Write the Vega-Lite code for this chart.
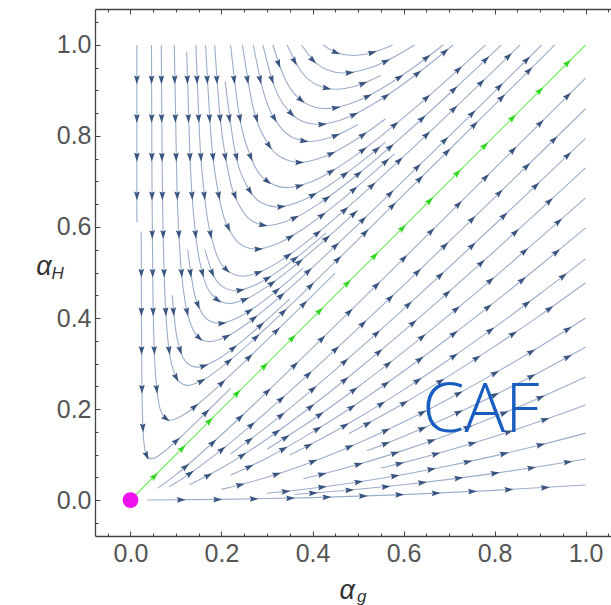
{
"$schema":"https://vega.github.io/schema/vega-lite/v6.json",
"width":516,"height":527,
"autosize":{"type":"none"},
"padding":{"left":95,"top":9,"right":0,"bottom":69},
"config":{"view":{"stroke":null},"font":"Liberation Sans"},
"datasets":{
"lines":[
{"l":"u01","x":0.014,"y":1},{"l":"u01","x":0.01405,"y":0.8},{"l":"u01","x":0.0141,"y":0.61},
{"l":"u02","x":0.02354,"y":0.59},{"l":"u02","x":0.02405,"y":0.4},{"l":"u02","x":0.02513,"y":0.25},{"l":"u02","x":0.02773,"y":0.15},{"l":"u02","x":0.03178,"y":0.11},{"l":"u02","x":0.035,"y":0.0988},{"l":"u02","x":0.0452,"y":0.0904},{"l":"u02","x":0.06,"y":0.0963},{"l":"u02","x":0.08,"y":0.1115},{"l":"u02","x":0.12,"y":0.1478},{"l":"u02","x":0.16,"y":0.1863},{"l":"u02","x":0.22,"y":0.2452},
{"l":"u03","x":0.04613,"y":1},{"l":"u03","x":0.04718,"y":0.7},{"l":"u03","x":0.04943,"y":0.45},{"l":"u03","x":0.05356,"y":0.3},{"l":"u03","x":0.06275,"y":0.21},{"l":"u03","x":0.07,"y":0.1885},{"l":"u03","x":0.078,"y":0.1789},{"l":"u03","x":0.088,"y":0.176},{"l":"u03","x":0.12,"y":0.1895},{"l":"u03","x":0.16,"y":0.2207},{"l":"u03","x":0.2,"y":0.2564},{"l":"u03","x":0.25,"y":0.3034},{"l":"u03","x":0.3,"y":0.3516},{"l":"u03","x":0.35,"y":0.4003},{"l":"u03","x":0.4,"y":0.4494},{"l":"u03","x":0.45,"y":0.4988},
{"l":"u04","x":0.06757,"y":1},{"l":"u04","x":0.07,"y":0.7},{"l":"u04","x":0.07393,"y":0.5},{"l":"u04","x":0.0824,"y":0.35},{"l":"u04","x":0.09574,"y":0.28},{"l":"u04","x":0.105,"y":0.2625},{"l":"u04","x":0.126,"y":0.252},{"l":"u04","x":0.16,"y":0.2639},{"l":"u04","x":0.2,"y":0.292},{"l":"u04","x":0.3,"y":0.3797},{"l":"u04","x":0.4,"y":0.4748},{"l":"u04","x":0.5,"y":0.5721},{"l":"u04","x":0.6,"y":0.6704},{"l":"u04","x":0.7,"y":0.7692},{"l":"u04","x":0.8,"y":0.8684},{"l":"u04","x":0.9,"y":0.9677},{"l":"u04","x":0.93243,"y":1},
{"l":"u05","x":0.09168,"y":0.45},{"l":"u05","x":0.09857,"y":0.38},{"l":"u05","x":0.11267,"y":0.32},{"l":"u05","x":0.125,"y":0.3005},{"l":"u05","x":0.146,"y":0.292},{"l":"u05","x":0.19,"y":0.3085},{"l":"u05","x":0.25,"y":0.3531},{"l":"u05","x":0.3,"y":0.3965},{"l":"u05","x":0.35,"y":0.4422},
{"l":"u06","x":0.09627,"y":1},{"l":"u06","x":0.1018,"y":0.7},{"l":"u06","x":0.10834,"y":0.55},{"l":"u06","x":0.1194,"y":0.44},{"l":"u06","x":0.1399,"y":0.37},{"l":"u06","x":0.155,"y":0.3533},{"l":"u06","x":0.174,"y":0.348},{"l":"u06","x":0.22,"y":0.3639},{"l":"u06","x":0.26,"y":0.3908},{"l":"u06","x":0.3,"y":0.4225},{"l":"u06","x":0.4,"y":0.5112},{"l":"u06","x":0.5,"y":0.6053},{"l":"u06","x":0.6,"y":0.7018},{"l":"u06","x":0.7,"y":0.7993},{"l":"u06","x":0.8,"y":0.8976},{"l":"u06","x":0.90374,"y":1},
{"l":"u07","x":0.12576,"y":0.55},{"l":"u07","x":0.139,"y":0.46},{"l":"u07","x":0.15752,"y":0.41},{"l":"u07","x":0.172,"y":0.3945},{"l":"u07","x":0.194,"y":0.388},{"l":"u07","x":0.24,"y":0.4028},{"l":"u07","x":0.28,"y":0.4284},{"l":"u07","x":0.33,"y":0.4674},{"l":"u07","x":0.38,"y":0.5102},
{"l":"u08","x":0.12348,"y":0.985},{"l":"u08","x":0.13082,"y":0.75},{"l":"u08","x":0.14126,"y":0.6},{"l":"u08","x":0.1578,"y":0.5},{"l":"u08","x":0.18,"y":0.45},{"l":"u08","x":0.216,"y":0.432},{"l":"u08","x":0.26,"y":0.4447},{"l":"u08","x":0.3,"y":0.4688},{"l":"u08","x":0.35,"y":0.5062},{"l":"u08","x":0.4,"y":0.5479},{"l":"u08","x":0.45,"y":0.5921},{"l":"u08","x":0.5,"y":0.6378},
{"l":"u09","x":0.1638,"y":0.55},{"l":"u09","x":0.17929,"y":0.5},{"l":"u09","x":0.2,"y":0.4706},{"l":"u09","x":0.23,"y":0.46},{"l":"u09","x":0.28,"y":0.4752},{"l":"u09","x":0.33,"y":0.5065},{"l":"u09","x":0.38,"y":0.5449},{"l":"u09","x":0.43,"y":0.587},
{"l":"u10","x":0.14363,"y":1},{"l":"u10","x":0.1518,"y":0.8},{"l":"u10","x":0.16477,"y":0.65},{"l":"u10","x":0.1857,"y":0.55},{"l":"u10","x":0.21,"y":0.5069},{"l":"u10","x":0.246,"y":0.492},{"l":"u10","x":0.3,"y":0.5085},{"l":"u10","x":0.35,"y":0.5396},{"l":"u10","x":0.4,"y":0.5776},{"l":"u10","x":0.5,"y":0.6631},{"l":"u10","x":0.6,"y":0.7547},{"l":"u10","x":0.7,"y":0.8492},{"l":"u10","x":0.8,"y":0.9453},{"l":"u10","x":0.85637,"y":1},
{"l":"u11","x":0.16504,"y":1},{"l":"u11","x":0.17693,"y":0.8},{"l":"u11","x":0.19601,"y":0.66},{"l":"u11","x":0.22538,"y":0.58},{"l":"u11","x":0.25,"y":0.557},{"l":"u11","x":0.2756,"y":0.5512},{"l":"u11","x":0.33,"y":0.5666},{"l":"u11","x":0.38,"y":0.5962},{"l":"u11","x":0.45,"y":0.6486},{"l":"u11","x":0.52,"y":0.7075},{"l":"u11","x":0.58,"y":0.7607},
{"l":"u12","x":0.18504,"y":1},{"l":"u12","x":0.196,"y":0.85},{"l":"u12","x":0.215,"y":0.72},{"l":"u12","x":0.24645,"y":0.635},{"l":"u12","x":0.27,"y":0.6116},{"l":"u12","x":0.3016,"y":0.6032},{"l":"u12","x":0.36,"y":0.6195},{"l":"u12","x":0.42,"y":0.6553},{"l":"u12","x":0.5,"y":0.7159},{"l":"u12","x":0.6,"y":0.8014},{"l":"u12","x":0.7,"y":0.8922},{"l":"u12","x":0.8,"y":0.9858},{"l":"u12","x":0.81496,"y":1},
{"l":"u13","x":0.20805,"y":0.92},{"l":"u13","x":0.22715,"y":0.78},{"l":"u13","x":0.26177,"y":0.68},{"l":"u13","x":0.29,"y":0.652},{"l":"u13","x":0.322,"y":0.644},{"l":"u13","x":0.38,"y":0.6594},{"l":"u13","x":0.44,"y":0.6939},{"l":"u13","x":0.5,"y":0.7375},{"l":"u13","x":0.56,"y":0.786},
{"l":"u14","x":0.22,"y":1},{"l":"u14","x":0.2368,"y":0.86},{"l":"u14","x":0.2658,"y":0.75},{"l":"u14","x":0.3,"y":0.7009},{"l":"u14","x":0.3432,"y":0.6864},{"l":"u14","x":0.4,"y":0.7005},{"l":"u14","x":0.46,"y":0.7337},{"l":"u14","x":0.54,"y":0.7915},{"l":"u14","x":0.62,"y":0.8573},{"l":"u14","x":0.7,"y":0.9273},{"l":"u14","x":0.78,"y":1},
{"l":"u15","x":0.246,"y":1},{"l":"u15","x":0.26575,"y":0.88},{"l":"u15","x":0.30392,"y":0.78},{"l":"u15","x":0.33,"y":0.7536},{"l":"u15","x":0.371,"y":0.742},{"l":"u15","x":0.43,"y":0.7562},{"l":"u15","x":0.5,"y":0.7949},{"l":"u15","x":0.56,"y":0.8374},
{"l":"u16","x":0.26978,"y":1},{"l":"u16","x":0.29126,"y":0.9},{"l":"u16","x":0.329,"y":0.82},{"l":"u16","x":0.36,"y":0.7951},{"l":"u16","x":0.394,"y":0.788},{"l":"u16","x":0.45,"y":0.8004},{"l":"u16","x":0.5,"y":0.8251},
{"l":"u17","x":0.29095,"y":1},{"l":"u17","x":0.31234,"y":0.92},{"l":"u17","x":0.3524,"y":0.85},{"l":"u17","x":0.38,"y":0.8313},{"l":"u17","x":0.4126,"y":0.8252},{"l":"u17","x":0.48,"y":0.8418},{"l":"u17","x":0.55,"y":0.8801},{"l":"u17","x":0.63,"y":0.9367},{"l":"u17","x":0.709,"y":1},
{"l":"u18","x":0.31292,"y":1},{"l":"u18","x":0.33743,"y":0.93},{"l":"u18","x":0.38023,"y":0.875},{"l":"u18","x":0.4,"y":0.8649},{"l":"u18","x":0.43,"y":0.86},{"l":"u18","x":0.5,"y":0.8772},{"l":"u18","x":0.57,"y":0.9152},{"l":"u18","x":0.63,"y":0.9564},{"l":"u18","x":0.68708,"y":1},
{"l":"u19","x":0.34411,"y":1},{"l":"u19","x":0.3765,"y":0.94},{"l":"u19","x":0.41,"y":0.9121},{"l":"u19","x":0.4514,"y":0.9028},{"l":"u19","x":0.5,"y":0.9114},{"l":"u19","x":0.55,"y":0.9328},
{"l":"u20","x":0.3759,"y":1},{"l":"u20","x":0.408,"y":0.96},{"l":"u20","x":0.43,"y":0.9463},{"l":"u20","x":0.4692,"y":0.9384},{"l":"u20","x":0.53,"y":0.9509},{"l":"u20","x":0.58,"y":0.974},{"l":"u20","x":0.6241,"y":1},
{"l":"u21","x":0.42384,"y":1},{"l":"u21","x":0.45,"y":0.984},{"l":"u21","x":0.4884,"y":0.9768},{"l":"u21","x":0.53,"y":0.9829},{"l":"u21","x":0.57616,"y":1},
{"l":"b01","x":0.06,"y":0.026},{"l":"b01","x":0.1,"y":0.056},{"l":"b01","x":0.2,"y":0.1435},{"l":"b01","x":0.3,"y":0.2377},{"l":"b01","x":0.4,"y":0.3342},{"l":"b01","x":0.5,"y":0.432},{"l":"b01","x":0.6,"y":0.5304},{"l":"b01","x":0.7,"y":0.6293},{"l":"b01","x":0.8,"y":0.7284},{"l":"b01","x":0.9,"y":0.8276},{"l":"b01","x":1,"y":0.927},
{"l":"b02","x":0.085,"y":0.029},{"l":"b02","x":0.1,"y":0.038},{"l":"b02","x":0.2,"y":0.1102},{"l":"b02","x":0.3,"y":0.1944},{"l":"b02","x":0.4,"y":0.2842},{"l":"b02","x":0.5,"y":0.3771},{"l":"b02","x":0.6,"y":0.4718},{"l":"b02","x":0.7,"y":0.5678},{"l":"b02","x":0.8,"y":0.6646},{"l":"b02","x":0.9,"y":0.762},{"l":"b02","x":1,"y":0.8598},
{"l":"b03","x":0.22,"y":0.1013},{"l":"b03","x":0.3,"y":0.1613},{"l":"b03","x":0.4,"y":0.2432},{"l":"b03","x":0.5,"y":0.3298},{"l":"b03","x":0.6,"y":0.4196},{"l":"b03","x":0.7,"y":0.5115},{"l":"b03","x":0.8,"y":0.6049},{"l":"b03","x":0.9,"y":0.6995},{"l":"b03","x":1,"y":0.7949},
{"l":"b04","x":0.13,"y":0.0338},{"l":"b04","x":0.2,"y":0.0702},{"l":"b04","x":0.3,"y":0.1343},{"l":"b04","x":0.4,"y":0.2078},{"l":"b04","x":0.5,"y":0.2874},{"l":"b04","x":0.6,"y":0.3711},{"l":"b04","x":0.7,"y":0.4579},{"l":"b04","x":0.8,"y":0.547},{"l":"b04","x":0.9,"y":0.6378},{"l":"b04","x":1,"y":0.7299},
{"l":"b05","x":0.3,"y":0.1117},{"l":"b05","x":0.4,"y":0.1766},{"l":"b05","x":0.5,"y":0.2485},{"l":"b05","x":0.6,"y":0.3255},{"l":"b05","x":0.7,"y":0.4063},{"l":"b05","x":0.8,"y":0.49},{"l":"b05","x":0.9,"y":0.5761},{"l":"b05","x":1,"y":0.664},
{"l":"b06","x":0.22,"y":0.0543},{"l":"b06","x":0.3,"y":0.0926},{"l":"b06","x":0.4,"y":0.1493},{"l":"b06","x":0.5,"y":0.2133},{"l":"b06","x":0.6,"y":0.283},{"l":"b06","x":0.7,"y":0.3571},{"l":"b06","x":0.8,"y":0.4348},{"l":"b06","x":0.9,"y":0.5153},{"l":"b06","x":1,"y":0.5981},
{"l":"b07","x":0.35,"y":0.099},{"l":"b07","x":0.4,"y":0.1243},{"l":"b07","x":0.5,"y":0.1802},{"l":"b07","x":0.6,"y":0.2421},{"l":"b07","x":0.7,"y":0.3088},{"l":"b07","x":0.8,"y":0.3794},{"l":"b07","x":0.9,"y":0.4533},{"l":"b07","x":1,"y":0.53},
{"l":"b08","x":0.48,"y":0.1462},{"l":"b08","x":0.6,"y":0.2123},{"l":"b08","x":0.7,"y":0.2728},{"l":"b08","x":0.8,"y":0.3376},{"l":"b08","x":0.9,"y":0.4058},{"l":"b08","x":1,"y":0.4771},
{"l":"b09","x":0.2,"y":0.0235},{"l":"b09","x":0.3,"y":0.05},{"l":"b09","x":0.4,"y":0.0842},{"l":"b09","x":0.5,"y":0.125},{"l":"b09","x":0.6,"y":0.1714},{"l":"b09","x":0.7,"y":0.2227},{"l":"b09","x":0.8,"y":0.2783},{"l":"b09","x":0.9,"y":0.3375},{"l":"b09","x":1,"y":0.4},
{"l":"b10","x":0.52,"y":0.1083},{"l":"b10","x":0.6,"y":0.1398},{"l":"b10","x":0.7,"y":0.1831},{"l":"b10","x":0.8,"y":0.2305},{"l":"b10","x":0.9,"y":0.2816},{"l":"b10","x":1,"y":0.336},
{"l":"b11","x":0.38,"y":0.0469},{"l":"b11","x":0.5,"y":0.0781},{"l":"b11","x":0.6,"y":0.1091},{"l":"b11","x":0.7,"y":0.1441},{"l":"b11","x":0.8,"y":0.1829},{"l":"b11","x":0.9,"y":0.225},{"l":"b11","x":1,"y":0.2703},
{"l":"b12","x":0.55,"y":0.0699},{"l":"b12","x":0.6,"y":0.0822},{"l":"b12","x":0.7,"y":0.1094},{"l":"b12","x":0.8,"y":0.1397},{"l":"b12","x":0.9,"y":0.1731},{"l":"b12","x":1,"y":0.2092},
{"l":"b13","x":0.3,"y":0.0148},{"l":"b13","x":0.4,"y":0.0258},{"l":"b13","x":0.5,"y":0.0397},{"l":"b13","x":0.6,"y":0.0563},{"l":"b13","x":0.7,"y":0.0754},{"l":"b13","x":0.8,"y":0.097},{"l":"b13","x":0.9,"y":0.1209},{"l":"b13","x":1,"y":0.1471},
{"l":"b14","x":0.36,"y":0.0123},{"l":"b14","x":0.5,"y":0.0236},{"l":"b14","x":0.6,"y":0.0336},{"l":"b14","x":0.7,"y":0.0454},{"l":"b14","x":0.8,"y":0.0587},{"l":"b14","x":0.9,"y":0.0736},{"l":"b14","x":1,"y":0.0901},
{"l":"b15","x":0.037,"y":0},{"l":"b15","x":0.2,"y":0.0014},{"l":"b15","x":0.4,"y":0.0054},{"l":"b15","x":0.6,"y":0.012},{"l":"b15","x":0.8,"y":0.0213},{"l":"b15","x":1,"y":0.033}
],
"arrows":[
{"x":0.014,"y":0.925,"a":180},{"x":0.014,"y":0.84,"a":180},{"x":0.014,"y":0.755,"a":180},{"x":0.0141,"y":0.67,"a":180},
{"x":0.0238,"y":0.5,"a":180},{"x":0.024,"y":0.415,"a":180},{"x":0.0244,"y":0.33,"a":179.6},{"x":0.0252,"y":0.245,"a":179.2},{"x":0.0272,"y":0.16,"a":177.5},{"x":0.035,"y":0.0988,"a":156.7},{"x":0.1,"y":0.1292,"a":47.5},{"x":0.165,"y":0.1912,"a":45.7},
{"x":0.0463,"y":0.925,"a":180},{"x":0.0465,"y":0.84,"a":180},{"x":0.0469,"y":0.755,"a":180},{"x":0.0473,"y":0.67,"a":179.8},{"x":0.0478,"y":0.585,"a":179.5},{"x":0.0486,"y":0.5,"a":179.3},{"x":0.0497,"y":0.415,"a":178.9},{"x":0.0523,"y":0.33,"a":177.9},{"x":0.0575,"y":0.245,"a":174.1},{"x":0.077,"y":0.1797,"a":127.9},{"x":0.14,"y":0.2042,"a":51.7},{"x":0.2,"y":0.2564,"a":47.4},{"x":0.26,"y":0.313,"a":46.2},{"x":0.32,"y":0.371,"a":45.7},{"x":0.38,"y":0.4298,"a":45.5},
{"x":0.0679,"y":0.925,"a":179.6},{"x":0.0684,"y":0.84,"a":179.5},{"x":0.0691,"y":0.755,"a":179.4},{"x":0.07,"y":0.67,"a":179.2},{"x":0.0718,"y":0.585,"a":178.9},{"x":0.0739,"y":0.5,"a":178.2},{"x":0.0775,"y":0.415,"a":176.8},{"x":0.0848,"y":0.33,"a":172.3},{"x":0.1,"y":0.2703,"a":152.2},{"x":0.155,"y":0.2611,"a":62},{"x":0.215,"y":0.3041,"a":50.4},{"x":0.275,"y":0.3567,"a":47.6},{"x":0.335,"y":0.4126,"a":46.6},{"x":0.395,"y":0.47,"a":46},{"x":0.455,"y":0.5281,"a":45.7},{"x":0.515,"y":0.5868,"a":45.6},{"x":0.575,"y":0.6458,"a":45.4},{"x":0.635,"y":0.7049,"a":45.3},{"x":0.695,"y":0.7643,"a":45.3},{"x":0.755,"y":0.8237,"a":45.2},{"x":0.815,"y":0.8833,"a":45.2},{"x":0.875,"y":0.9429,"a":45.1},
{"x":0.0945,"y":0.415,"a":174.6},{"x":0.109,"y":0.33,"a":162.2},{"x":0.16,"y":0.2943,"a":73.5},{"x":0.225,"y":0.3331,"a":52.4},{"x":0.285,"y":0.3831,"a":48.6},
{"x":0.0972,"y":0.925,"a":179.2},{"x":0.0986,"y":0.84,"a":179},{"x":0.1003,"y":0.755,"a":178.6},{"x":0.1028,"y":0.67,"a":178.1},{"x":0.1063,"y":0.585,"a":177},{"x":0.1122,"y":0.5,"a":174.8},{"x":0.1241,"y":0.415,"a":167.4},{"x":0.15,"y":0.3571,"a":132.2},{"x":0.21,"y":0.3585,"a":63.4},{"x":0.27,"y":0.3984,"a":52.3},{"x":0.33,"y":0.4481,"a":48.9},{"x":0.39,"y":0.502,"a":47.5},{"x":0.45,"y":0.5579,"a":46.7},{"x":0.51,"y":0.6149,"a":46.2},{"x":0.57,"y":0.6727,"a":45.9},{"x":0.63,"y":0.7309,"a":45.7},{"x":0.69,"y":0.7896,"a":45.6},{"x":0.75,"y":0.8484,"a":45.5},{"x":0.81,"y":0.9075,"a":45.4},{"x":0.87,"y":0.9667,"a":45.4},
{"x":0.1317,"y":0.5,"a":171.7},{"x":0.1478,"y":0.43,"a":159.3},{"x":0.2,"y":0.3883,"a":83.6},{"x":0.26,"y":0.4147,"a":57.1},{"x":0.32,"y":0.4592,"a":51},
{"x":0.1249,"y":0.925,"a":178.6},{"x":0.1273,"y":0.84,"a":178.1},{"x":0.1306,"y":0.755,"a":177.3},{"x":0.1353,"y":0.67,"a":176.1},{"x":0.1429,"y":0.585,"a":173.3},{"x":0.1578,"y":0.5,"a":164.8},{"x":0.19,"y":0.4402,"a":126.3},{"x":0.25,"y":0.4401,"a":67.1},{"x":0.31,"y":0.4757,"a":54.5},{"x":0.37,"y":0.5225,"a":50.3},{"x":0.43,"y":0.5742,"a":48.4},{"x":0.49,"y":0.6285,"a":47.4},
{"x":0.1793,"y":0.5,"a":155.6},{"x":0.24,"y":0.4608,"a":81.2},{"x":0.3,"y":0.4865,"a":58.5},{"x":0.36,"y":0.529,"a":52},
{"x":0.1461,"y":0.925,"a":177.9},{"x":0.1497,"y":0.84,"a":177.2},{"x":0.1547,"y":0.755,"a":175.9},{"x":0.1623,"y":0.67,"a":173.5},{"x":0.1759,"y":0.585,"a":167.3},{"x":0.21,"y":0.5069,"a":135},{"x":0.28,"y":0.4994,"a":68.9},{"x":0.345,"y":0.5361,"a":55.3},{"x":0.41,"y":0.5857,"a":50.8},{"x":0.47,"y":0.6366,"a":48.8},{"x":0.53,"y":0.6902,"a":47.7},{"x":0.59,"y":0.7454,"a":47},{"x":0.65,"y":0.8017,"a":46.6},{"x":0.71,"y":0.8588,"a":46.3},{"x":0.77,"y":0.9164,"a":46},{"x":0.83,"y":0.9744,"a":45.9},
{"x":0.1685,"y":0.925,"a":177},{"x":0.1737,"y":0.84,"a":175.8},{"x":0.1814,"y":0.755,"a":173.8},{"x":0.1939,"y":0.67,"a":168.7},{"x":0.2144,"y":0.6,"a":155.8},{"x":0.28,"y":0.5513,"a":86.5},{"x":0.35,"y":0.5773,"a":60},{"x":0.42,"y":0.6251,"a":52.7},{"x":0.49,"y":0.6817,"a":49.7},{"x":0.56,"y":0.7428,"a":48.2},
{"x":0.1897,"y":0.925,"a":175.9},{"x":0.197,"y":0.84,"a":174.1},{"x":0.2082,"y":0.755,"a":169.7},{"x":0.2292,"y":0.67,"a":159.7},{"x":0.29,"y":0.6042,"a":99.8},{"x":0.36,"y":0.6195,"a":64.4},{"x":0.43,"y":0.6622,"a":54.7},{"x":0.5,"y":0.7159,"a":50.9},{"x":0.57,"y":0.775,"a":49},{"x":0.64,"y":0.8373,"a":47.9},{"x":0.71,"y":0.9015,"a":47.1},{"x":0.78,"y":0.967,"a":46.7},
{"x":0.2171,"y":0.84,"a":172.1},{"x":0.2328,"y":0.755,"a":166.1},{"x":0.2618,"y":0.68,"a":147.2},{"x":0.33,"y":0.6444,"a":84.7},{"x":0.4,"y":0.6695,"a":61.4},{"x":0.47,"y":0.7149,"a":53.9},{"x":0.54,"y":0.7694,"a":50.6},
{"x":0.2276,"y":0.925,"a":173.3},{"x":0.2404,"y":0.84,"a":169.2},{"x":0.2637,"y":0.755,"a":157.9},{"x":0.3,"y":0.7009,"a":128.1},{"x":0.37,"y":0.69,"a":75.9},{"x":0.44,"y":0.7213,"a":59.4},{"x":0.51,"y":0.7686,"a":53.4},{"x":0.58,"y":0.8237,"a":50.5},{"x":0.65,"y":0.8832,"a":48.9},{"x":0.72,"y":0.9453,"a":48},
{"x":0.2568,"y":0.925,"a":170.2},{"x":0.2766,"y":0.84,"a":162.4},{"x":0.3039,"y":0.78,"a":145.4},{"x":0.37,"y":0.742,"a":90.5},{"x":0.44,"y":0.7607,"a":64.9},{"x":0.51,"y":0.8015,"a":56},
{"x":0.2845,"y":0.925,"a":166.2},{"x":0.3155,"y":0.84,"a":150.4},{"x":0.38,"y":0.7891,"a":99.1},{"x":0.45,"y":0.8004,"a":68.5},
{"x":0.3106,"y":0.925,"a":161},{"x":0.3524,"y":0.85,"a":134.8},{"x":0.42,"y":0.8254,"a":86.1},{"x":0.49,"y":0.8463,"a":64.8},{"x":0.56,"y":0.8866,"a":56.6},{"x":0.63,"y":0.9367,"a":52.7},{"x":0.69,"y":0.9843,"a":50.7},
{"x":0.3251,"y":0.96,"a":160.4},{"x":0.3737,"y":0.88,"a":129.9},{"x":0.45,"y":0.8617,"a":80.7},{"x":0.52,"y":0.8866,"a":63.3},{"x":0.59,"y":0.9283,"a":56.1},{"x":0.65,"y":0.9713,"a":52.9},
{"x":0.36,"y":0.965,"a":151.2},{"x":0.43,"y":0.905,"a":102.5},{"x":0.51,"y":0.9149,"a":69.7},
{"x":0.4,"y":0.9674,"a":135.3},{"x":0.48,"y":0.9389,"a":85.1},{"x":0.56,"y":0.9637,"a":64.4},
{"x":0.45,"y":0.984,"a":112.2},{"x":0.53,"y":0.9829,"a":74.8},
{"x":0.12,"y":0.0725,"a":49.9},{"x":0.18,"y":0.1252,"a":47.8},{"x":0.24,"y":0.1807,"a":46.8},{"x":0.3,"y":0.2377,"a":46.3},{"x":0.36,"y":0.2954,"a":45.9},{"x":0.42,"y":0.3537,"a":45.7},{"x":0.48,"y":0.4124,"a":45.6},{"x":0.54,"y":0.4713,"a":45.4},{"x":0.6,"y":0.5304,"a":45.4},{"x":0.66,"y":0.5897,"a":45.3},{"x":0.72,"y":0.6491,"a":45.3},{"x":0.78,"y":0.7085,"a":45.2},{"x":0.84,"y":0.768,"a":45.2},{"x":0.9,"y":0.8276,"a":45.2},{"x":0.96,"y":0.8873,"a":45.2},
{"x":0.13,"y":0.0577,"a":55.4},{"x":0.2,"y":0.1102,"a":51.4},{"x":0.265,"y":0.1641,"a":49.5},{"x":0.33,"y":0.2209,"a":48.3},{"x":0.39,"y":0.275,"a":47.6},{"x":0.45,"y":0.3303,"a":47.1},{"x":0.51,"y":0.3865,"a":46.7},{"x":0.57,"y":0.4432,"a":46.4},{"x":0.63,"y":0.5005,"a":46.2},{"x":0.69,"y":0.5582,"a":46},{"x":0.75,"y":0.6161,"a":45.9},{"x":0.81,"y":0.6743,"a":45.8},{"x":0.87,"y":0.7327,"a":45.7},{"x":0.93,"y":0.7913,"a":45.6},
{"x":0.26,"y":0.1305,"a":53.1},{"x":0.33,"y":0.1852,"a":51.1},{"x":0.4,"y":0.2432,"a":49.8},{"x":0.47,"y":0.3034,"a":48.8},{"x":0.54,"y":0.3654,"a":48.2},{"x":0.61,"y":0.4287,"a":47.6},{"x":0.68,"y":0.493,"a":47.3},{"x":0.75,"y":0.558,"a":46.9},{"x":0.82,"y":0.6237,"a":46.7},{"x":0.89,"y":0.69,"a":46.5},{"x":0.96,"y":0.7567,"a":46.3},
{"x":0.17,"y":0.0535,"a":62},{"x":0.245,"y":0.0976,"a":57.5},{"x":0.32,"y":0.1484,"a":54.5},{"x":0.395,"y":0.204,"a":52.5},{"x":0.47,"y":0.263,"a":51.1},{"x":0.545,"y":0.3246,"a":50.1},{"x":0.62,"y":0.3883,"a":49.3},{"x":0.695,"y":0.4535,"a":48.7},{"x":0.77,"y":0.5201,"a":48.2},{"x":0.845,"y":0.5877,"a":47.8},{"x":0.92,"y":0.6561,"a":47.4},
{"x":0.34,"y":0.1366,"a":57.3},{"x":0.415,"y":0.187,"a":55.1},{"x":0.49,"y":0.2411,"a":53.4},{"x":0.565,"y":0.298,"a":52.2},{"x":0.64,"y":0.3574,"a":51.2},{"x":0.715,"y":0.4187,"a":50.4},{"x":0.79,"y":0.4816,"a":49.7},{"x":0.865,"y":0.5457,"a":49.2},{"x":0.94,"y":0.6111,"a":48.7},
{"x":0.26,"y":0.0725,"a":64.4},{"x":0.335,"y":0.1114,"a":61},{"x":0.41,"y":0.1554,"a":58.4},{"x":0.485,"y":0.2033,"a":56.5},{"x":0.56,"y":0.2545,"a":54.9},{"x":0.635,"y":0.3085,"a":53.7},{"x":0.71,"y":0.3648,"a":52.6},{"x":0.785,"y":0.4229,"a":51.8},{"x":0.86,"y":0.4828,"a":51.1},{"x":0.935,"y":0.544,"a":50.5},
{"x":0.39,"y":0.1191,"a":62.6},{"x":0.47,"y":0.1628,"a":60.2},{"x":0.55,"y":0.2105,"a":58.2},{"x":0.63,"y":0.2616,"a":56.7},{"x":0.71,"y":0.3157,"a":55.3},{"x":0.79,"y":0.3722,"a":54.2},{"x":0.87,"y":0.4308,"a":53.3},{"x":0.95,"y":0.4913,"a":52.5},
{"x":0.52,"y":0.1673,"a":61.6},{"x":0.6,"y":0.2123,"a":59.8},{"x":0.68,"y":0.2604,"a":58.2},{"x":0.76,"y":0.3112,"a":56.9},{"x":0.84,"y":0.3645,"a":55.8},{"x":0.92,"y":0.4198,"a":54.8},
{"x":0.24,"y":0.0331,"a":75.6},{"x":0.32,"y":0.0563,"a":72.2},{"x":0.4,"y":0.0842,"a":69.3},{"x":0.48,"y":0.1164,"a":66.9},{"x":0.56,"y":0.1522,"a":64.8},{"x":0.64,"y":0.1914,"a":63},{"x":0.72,"y":0.2335,"a":61.5},{"x":0.8,"y":0.2783,"a":60.1},{"x":0.88,"y":0.3254,"a":58.9},{"x":0.96,"y":0.3746,"a":57.9},
{"x":0.56,"y":0.1237,"a":68.5},{"x":0.64,"y":0.1566,"a":66.8},{"x":0.72,"y":0.1923,"a":65.2},{"x":0.8,"y":0.2305,"a":63.7},{"x":0.88,"y":0.2711,"a":62.5},{"x":0.96,"y":0.3139,"a":61.3},
{"x":0.42,"y":0.0565,"a":75.9},{"x":0.5,"y":0.0781,"a":73.9},{"x":0.58,"y":0.1026,"a":72.2},{"x":0.66,"y":0.1296,"a":70.5},{"x":0.74,"y":0.1592,"a":69},{"x":0.82,"y":0.191,"a":67.6},{"x":0.9,"y":0.225,"a":66.4},
{"x":0.59,"y":0.0797,"a":75.9},{"x":0.67,"y":0.1009,"a":74.4},{"x":0.75,"y":0.1242,"a":73.1},{"x":0.83,"y":0.1494,"a":71.8},{"x":0.91,"y":0.1766,"a":70.7},
{"x":0.34,"y":0.0188,"a":83.8},{"x":0.42,"y":0.0284,"a":82.6},{"x":0.5,"y":0.0397,"a":81.3},{"x":0.58,"y":0.0527,"a":80.2},{"x":0.66,"y":0.0674,"a":79},{"x":0.74,"y":0.0837,"a":77.9},{"x":0.82,"y":0.1016,"a":76.9},{"x":0.9,"y":0.1209,"a":75.9},
{"x":0.4,"y":0.0152,"a":85.7},{"x":0.48,"y":0.0218,"a":84.9},{"x":0.56,"y":0.0294,"a":84.2},{"x":0.64,"y":0.0381,"a":83.4},{"x":0.72,"y":0.0479,"a":82.7},{"x":0.8,"y":0.0587,"a":82},{"x":0.88,"y":0.0705,"a":81.3},{"x":0.96,"y":0.0833,"a":80.6},
{"x":0.11,"y":0.0004,"a":89.6},{"x":0.19,"y":0.0012,"a":89.3},{"x":0.27,"y":0.0025,"a":89},{"x":0.35,"y":0.0041,"a":88.7},{"x":0.43,"y":0.0062,"a":88.4},{"x":0.51,"y":0.0087,"a":88.1},{"x":0.59,"y":0.0116,"a":87.8},{"x":0.67,"y":0.015,"a":87.5},{"x":0.75,"y":0.0187,"a":87.2},{"x":0.83,"y":0.0229,"a":86.9},{"x":0.91,"y":0.0274,"a":86.6}
],
"green":[{"x":0.01,"y":0.01},{"x":1,"y":1}],
"garrows":[
{"x":0.052,"y":0.052,"a":45},{"x":0.113,"y":0.113,"a":45},{"x":0.173,"y":0.173,"a":45},{"x":0.234,"y":0.234,"a":45},{"x":0.294,"y":0.294,"a":45},{"x":0.355,"y":0.355,"a":45},{"x":0.415,"y":0.415,"a":45},{"x":0.476,"y":0.476,"a":45},{"x":0.536,"y":0.536,"a":45},{"x":0.597,"y":0.597,"a":45},{"x":0.657,"y":0.657,"a":45},{"x":0.718,"y":0.718,"a":45},{"x":0.778,"y":0.778,"a":45},{"x":0.839,"y":0.839,"a":45},{"x":0.899,"y":0.899,"a":45},{"x":0.96,"y":0.96,"a":45}
],
"origin":[{"x":0,"y":0}],
"one":[{"k":1}]
},
"layer":[
{"data":{"name":"lines"},
 "mark":{"type":"line","interpolate":"monotone","strokeWidth":1.1,"color":"#9cadca"},
 "encoding":{
  "x":{"field":"x","type":"quantitative","scale":{"domain":[-0.078,1.056],"nice":false,"zero":false},
       "axis":{"orient":"bottom","values":[0,0.2,0.4,0.6,0.8,1],"format":".1f","tickSize":-5,"tickColor":"#444","domainColor":"#444","domainWidth":1.3,"labelFont":"Liberation Sans","labelFontSize":25,"labelColor":"#555","labelPadding":10,"title":null,"grid":false}},
  "y":{"field":"y","type":"quantitative","scale":{"domain":[-0.079,1.079],"nice":false,"zero":false},
       "axis":{"orient":"left","values":[0,0.2,0.4,0.6,0.8,1],"format":".1f","tickSize":-5,"tickColor":"#444","domainColor":"#444","domainWidth":1.3,"labelFont":"Liberation Sans","labelFontSize":25,"labelColor":"#555","labelPadding":9,"title":null,"grid":false}},
  "detail":{"field":"l"}}},
{"data":{"name":"green"},
 "mark":{"type":"line","strokeWidth":1.2,"color":"#74ec62"},
 "encoding":{
  "x":{"field":"x","type":"quantitative","scale":{"domain":[-0.078,1.056],"nice":false,"zero":false},
       "axis":{"orient":"bottom","values":[-0.05,0.05,0.1,0.15,0.25,0.3,0.35,0.45,0.5,0.55,0.65,0.7,0.75,0.85,0.9,0.95,1.05],"tickSize":-3,"tickColor":"#444","labels":false,"domain":false,"title":null,"grid":false}},
  "y":{"field":"y","type":"quantitative","scale":{"domain":[-0.079,1.079],"nice":false,"zero":false},
       "axis":{"orient":"left","values":[-0.05,0.05,0.1,0.15,0.25,0.3,0.35,0.45,0.5,0.55,0.65,0.7,0.75,0.85,0.9,0.95,1.05],"tickSize":-3,"tickColor":"#444","labels":false,"domain":false,"title":null,"grid":false}}}},
{"data":{"name":"arrows"},
 "mark":{"type":"point","shape":"M0,-1L0.55,0.7L0,0.45L-0.55,0.7Z","filled":true,"size":110,"color":"#3a5580","opacity":1,"strokeWidth":0},
 "encoding":{
  "x":{"field":"x","type":"quantitative","scale":{"domain":[-0.078,1.056],"nice":false,"zero":false},
       "axis":{"orient":"top","values":[0,0.2,0.4,0.6,0.8,1],"tickSize":-5,"tickColor":"#444","domainColor":"#444","domainWidth":1.3,"labels":false,"title":null,"grid":false}},
  "y":{"field":"y","type":"quantitative","scale":{"domain":[-0.079,1.079],"nice":false,"zero":false},"axis":null},
  "angle":{"field":"a","type":"quantitative","scale":null}}},
{"data":{"name":"garrows"},
 "mark":{"type":"point","shape":"M0,-1L0.55,0.7L0,0.45L-0.55,0.7Z","filled":true,"size":110,"color":"#2fd81f","opacity":1,"strokeWidth":0},
 "encoding":{
  "x":{"field":"x","type":"quantitative","scale":{"domain":[-0.078,1.056],"nice":false,"zero":false},
       "axis":{"orient":"top","values":[-0.05,0.05,0.1,0.15,0.25,0.3,0.35,0.45,0.5,0.55,0.65,0.7,0.75,0.85,0.9,0.95,1.05],"tickSize":-3,"tickColor":"#444","labels":false,"domain":false,"title":null,"grid":false}},
  "y":{"field":"y","type":"quantitative","scale":{"domain":[-0.079,1.079],"nice":false,"zero":false},"axis":null},
  "angle":{"field":"a","type":"quantitative","scale":null}}},
{"data":{"name":"origin"},
 "mark":{"type":"circle","size":250,"color":"#ee11ee","opacity":1},
 "encoding":{
  "x":{"field":"x","type":"quantitative","scale":{"domain":[-0.078,1.056],"nice":false,"zero":false},"axis":null},
  "y":{"field":"y","type":"quantitative","scale":{"domain":[-0.079,1.079],"nice":false,"zero":false},"axis":null}}},
{"data":{"name":"one"},
 "mark":{"type":"text","text":"CAF","font":"Open Sans","fontWeight":300,"fontSize":68,"color":"#1a5dc0","align":"center","baseline":"alphabetic"},
 "encoding":{
  "x":{"datum":0.77,"type":"quantitative","scale":{"domain":[-0.078,1.056],"nice":false,"zero":false},"axis":null},
  "y":{"datum":0.149,"type":"quantitative","scale":{"domain":[-0.079,1.079],"nice":false,"zero":false},"axis":null}}},
{"data":{"name":"one"},
 "mark":{"type":"text","text":"α","font":"Liberation Sans","fontStyle":"italic","fontSize":27,"color":"#333","align":"center","baseline":"middle"},
 "encoding":{
  "x":{"datum":-0.19,"type":"quantitative","scale":{"domain":[-0.078,1.056],"nice":false,"zero":false},"axis":null},
  "y":{"datum":0.512,"type":"quantitative","scale":{"domain":[-0.079,1.079],"nice":false,"zero":false},"axis":null}}},
{"data":{"name":"one"},
 "mark":{"type":"text","text":"H","font":"Liberation Sans","fontStyle":"italic","fontSize":17,"color":"#333","align":"center","baseline":"middle"},
 "encoding":{
  "x":{"datum":-0.16,"type":"quantitative","scale":{"domain":[-0.078,1.056],"nice":false,"zero":false},"axis":null},
  "y":{"datum":0.497,"type":"quantitative","scale":{"domain":[-0.079,1.079],"nice":false,"zero":false},"axis":null}}},
{"data":{"name":"one"},
 "mark":{"type":"text","text":"α","font":"Liberation Sans","fontStyle":"italic","fontSize":27,"color":"#333","align":"center","baseline":"middle"},
 "encoding":{
  "x":{"datum":0.476,"type":"quantitative","scale":{"domain":[-0.078,1.056],"nice":false,"zero":false},"axis":null},
  "y":{"datum":-0.2,"type":"quantitative","scale":{"domain":[-0.079,1.079],"nice":false,"zero":false},"axis":null}}},
{"data":{"name":"one"},
 "mark":{"type":"text","text":"g","font":"Liberation Sans","fontStyle":"italic","fontSize":17,"color":"#333","align":"center","baseline":"middle"},
 "encoding":{
  "x":{"datum":0.508,"type":"quantitative","scale":{"domain":[-0.078,1.056],"nice":false,"zero":false},"axis":null},
  "y":{"datum":-0.214,"type":"quantitative","scale":{"domain":[-0.079,1.079],"nice":false,"zero":false},"axis":null}}}
],
"resolve":{"axis":{"x":"independent","y":"independent"}}
}
